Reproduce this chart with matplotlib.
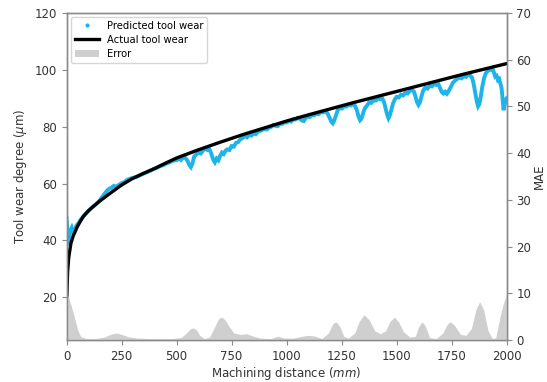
import matplotlib
matplotlib.use("Agg")
import matplotlib.pyplot as plt
from matplotlib.lines import Line2D
from matplotlib.patches import Patch

# Actual tool wear (um) vs machining distance (mm)
actual_x = [0, 5, 10, 20, 30, 50, 75, 100, 150, 200, 250, 300, 350, 400, 450, 500,
            600, 700, 800, 900, 1000, 1100, 1200, 1300, 1400, 1500, 1600, 1700, 1800, 1900, 2000]
actual_y = [17, 29, 34, 39, 41.5, 45, 48.3, 50.5, 53.8, 56.7, 59.5, 61.8, 63.6, 65.3, 67.2, 69.0,
            71.9, 74.6, 77.2, 79.6, 82.0, 84.2, 86.3, 88.4, 90.4, 92.4, 94.4, 96.4, 98.4, 100.3, 102.2]

# Predicted tool wear (um): (distance, value) pairs
pred_pairs = [
    (0, 48), (3, 45), (6, 41), (9, 40.3), (13, 41.5), (18, 43.5), (24, 44.5), (30, 43.2),
    (37, 43.6), (45, 45.2), (55, 46.2), (65, 47.4), (75, 48.3), (85, 49.3), (95, 50.0),
    (105, 50.8), (115, 51.6), (125, 52.2), (135, 52.9), (145, 53.6), (155, 54.5), (165, 55.6),
    (175, 56.6), (185, 57.6), (195, 58.2), (205, 58.6), (215, 59.2), (225, 58.9), (235, 59.4),
    (245, 59.9), (255, 60.3), (265, 60.6), (275, 61.3), (285, 61.6), (295, 61.9), (305, 62.1),
    (320, 62.4), (335, 63.0), (350, 63.5), (365, 64.0), (380, 64.5), (395, 65.1), (410, 65.5),
    (425, 66.1), (440, 66.5), (455, 67.1), (470, 67.5), (485, 68.1),
    (500, 68.2), (510, 68.8), (520, 68.3), (530, 69.4), (540, 69.0), (550, 68.0), (558, 66.5),
    (565, 65.8), (572, 67.0), (580, 69.5), (590, 70.3), (600, 71.0), (610, 70.6), (620, 71.6),
    (630, 72.3), (640, 71.8), (650, 72.0), (658, 70.5), (666, 68.5), (674, 67.5), (682, 68.8),
    (690, 68.2), (698, 69.8), (706, 70.9), (714, 70.4), (722, 71.5), (730, 72.0), (740, 71.8),
    (750, 73.2), (760, 73.0), (770, 74.3), (780, 74.6), (790, 75.6), (800, 76.0), (810, 76.8),
    (820, 76.3), (830, 77.2), (840, 76.9), (850, 77.8), (860, 77.4), (870, 78.3), (880, 78.5),
    (890, 78.9), (900, 79.2), (910, 79.0), (920, 79.7), (930, 79.9), (940, 80.6), (950, 80.3),
    (960, 80.2), (970, 81.0), (980, 81.0), (990, 81.6), (1000, 81.5),
    (1010, 82.0), (1020, 81.8), (1030, 82.6), (1040, 82.5), (1050, 83.1), (1060, 82.8),
    (1070, 82.2), (1078, 82.0), (1086, 83.0), (1095, 83.5), (1105, 83.4), (1115, 84.1),
    (1125, 84.0), (1135, 84.6), (1145, 84.4), (1155, 85.2), (1165, 85.0), (1175, 85.4),
    (1185, 84.8), (1195, 83.2), (1203, 81.8), (1210, 81.2), (1217, 82.3), (1225, 84.2),
    (1233, 85.9), (1242, 86.6), (1252, 86.4), (1262, 87.3), (1272, 87.1), (1282, 87.8),
    (1292, 87.5), (1302, 88.0), (1312, 87.2), (1320, 85.6), (1327, 83.5), (1334, 82.3),
    (1340, 82.8), (1347, 84.6), (1355, 86.4), (1365, 87.4), (1375, 88.6), (1385, 88.4),
    (1395, 89.4), (1405, 89.2), (1415, 90.0), (1425, 89.7), (1435, 89.9), (1443, 88.6),
    (1450, 86.4), (1457, 84.2), (1463, 83.0), (1469, 84.0), (1476, 86.0), (1484, 88.3),
    (1492, 89.6), (1500, 90.5), (1510, 90.3), (1520, 91.3), (1530, 91.0), (1540, 92.0),
    (1550, 91.7), (1560, 92.6), (1570, 93.0), (1578, 92.4), (1585, 90.8), (1592, 88.8),
    (1599, 87.7), (1606, 88.6), (1613, 90.7), (1620, 92.6), (1630, 93.8), (1640, 93.4),
    (1650, 94.4), (1660, 94.2), (1670, 95.0), (1680, 94.7), (1690, 94.9), (1698, 93.5),
    (1705, 92.2), (1712, 91.7), (1720, 92.3), (1728, 91.6), (1736, 92.5), (1745, 93.8),
    (1755, 95.4), (1765, 96.2), (1775, 96.8), (1785, 97.3), (1795, 97.0), (1805, 97.8),
    (1815, 97.5), (1825, 98.4), (1835, 98.0), (1843, 97.2), (1850, 95.0), (1857, 92.0),
    (1864, 89.0), (1870, 87.2), (1876, 88.0), (1882, 90.5), (1889, 94.0), (1897, 97.0),
    (1905, 98.8), (1913, 99.6), (1921, 100.3), (1929, 100.0), (1936, 100.5), (1942, 99.0),
    (1948, 97.6), (1954, 97.9), (1960, 96.4), (1966, 96.8), (1972, 95.0), (1977, 93.5),
    (1982, 89.0), (1986, 85.8), (1990, 87.5), (1995, 89.5), (2000, 90.0),
]
pred_x = [p[0] for p in pred_pairs]
pred_y = [p[1] for p in pred_pairs]

# Error (MAE)
err_x = [0, 10, 20, 35, 50, 65, 90, 130, 170, 200, 225, 250, 280, 320, 400, 480, 520, 545, 560,
         575, 590, 605, 625, 650, 670, 690, 705, 720, 740, 760, 790, 820, 850, 880, 930, 960, 990,
         1030, 1070, 1100, 1130, 1160, 1190, 1210, 1225, 1240, 1260, 1280, 1310, 1330, 1352, 1375,
         1400, 1425, 1450, 1470, 1490, 1510, 1530, 1560, 1585, 1600, 1615, 1630, 1650, 1680, 1710,
         1730, 1745, 1765, 1790, 1815, 1840, 1860, 1877, 1895, 1915, 1935, 1950, 1970, 1985, 2000]
err_y = [10.0, 9.0, 7.5, 5.0, 2.2, 0.7, 0.3, 0.3, 0.6, 1.2, 1.5, 1.2, 0.7, 0.4, 0.3, 0.3, 0.5, 1.5,
         2.3, 2.6, 2.2, 1.0, 0.3, 0.6, 2.5, 4.5, 4.9, 4.3, 2.8, 1.5, 1.2, 1.3, 0.8, 0.4, 0.3, 0.8,
         0.4, 0.4, 0.8, 1.0, 0.8, 0.3, 1.5, 3.5, 3.9, 3.0, 0.8, 0.4, 1.5, 4.0, 5.4, 4.3, 2.0, 1.3,
         2.0, 4.0, 4.9, 3.8, 1.8, 0.6, 0.8, 2.8, 3.9, 3.0, 0.5, 0.3, 1.5, 3.4, 3.9, 3.0, 1.2, 1.0,
         2.5, 6.5, 8.2, 6.5, 2.0, 0.3, 0.5, 5.0, 7.8, 10.0]

x_ticks = [0, 250, 500, 750, 1000, 1250, 1500, 1750, 2000]

fig = plt.figure(figsize=(5.47, 3.82), dpi=100)
ax = fig.add_axes([0.1216, 0.110, 0.8047, 0.856])
ax2 = ax.twinx()

pred_color = "#1cb4ea"
ax.plot(pred_x, pred_y, color=pred_color, lw=2.8, zorder=2, solid_joinstyle="miter")
ax.plot(actual_x, actual_y, color="black", lw=2.4, zorder=3, solid_capstyle="round")
ax2.fill_between(err_x, err_y, 0, color="#cfcfcf", lw=0)

ax.set_xlim(0, 2000)
ax.set_ylim(5, 120)
ax2.set_ylim(0, 70)
ax.set_xticks(x_ticks)
ax.set_yticks([20, 40, 60, 80, 100, 120])
ax2.set_yticks([0, 10, 20, 30, 40, 50, 60, 70])

fs = 8.5
ax.set_xlabel("Machining distance ($mm$)", fontsize=fs, color="#333333", labelpad=2)
ax.set_ylabel("Tool wear degree ($\\mu$m)", fontsize=fs, color="#333333", labelpad=4)
ax2.set_ylabel("MAE", fontsize=fs, color="#333333", labelpad=1)

for a in (ax, ax2):
    a.tick_params(labelsize=fs, colors="#333333", length=3.5)
    for s in a.spines.values():
        s.set_color("#8a8a8a")
        s.set_linewidth(1.0)
ax.tick_params(axis="both", color="#8a8a8a")
ax2.tick_params(axis="y", color="#8a8a8a")

handles = [
    Line2D([], [], color=pred_color, marker=".", linestyle="none", markersize=4),
    Line2D([], [], color="black", lw=2.4),
    Patch(facecolor="#cfcfcf", edgecolor="none"),
]
labels = ["Predicted tool wear", "Actual tool wear", "Error"]
leg = ax2.legend(handles, labels, loc="upper left", fontsize=7.2, frameon=True,
                 borderaxespad=0.4, handlelength=2.4, labelspacing=0.4)
leg.get_frame().set_edgecolor("#cccccc")

fig.savefig("out.png", dpi=100)
